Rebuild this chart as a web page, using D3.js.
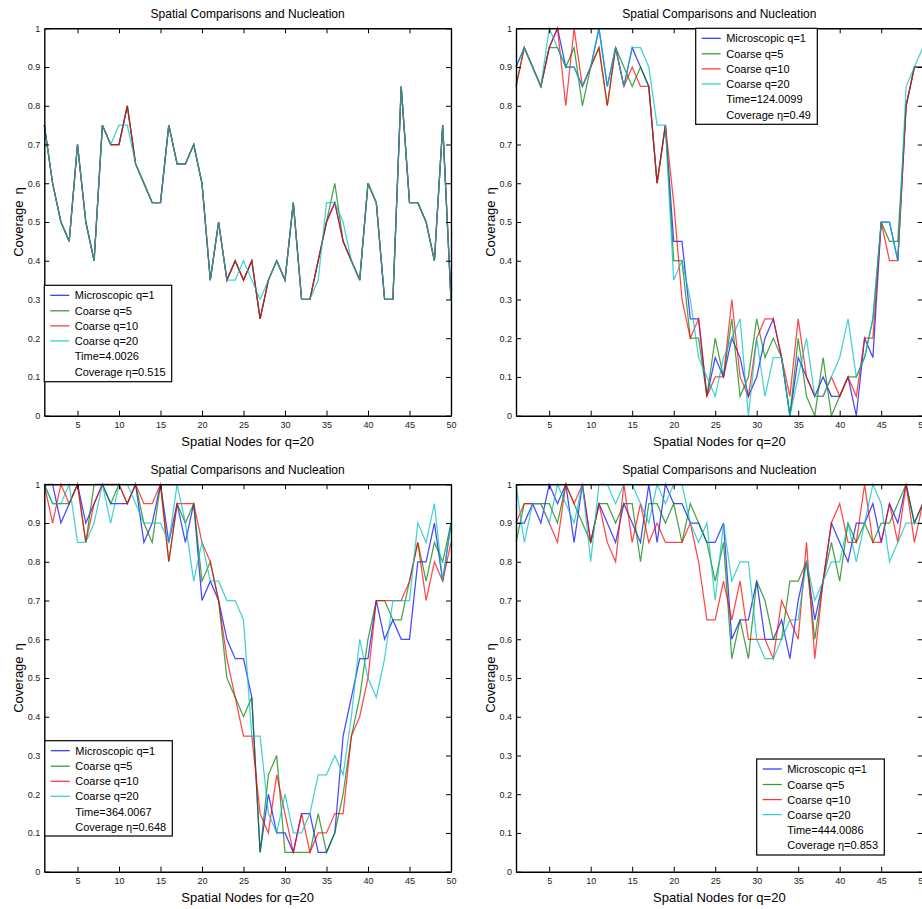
<!DOCTYPE html>
<html>
<head>
<meta charset="utf-8">
<script src="https://cdn.jsdelivr.net/npm/d3@7"></script>
<style>
  html, body { margin: 0; padding: 0; background: #fff; }
  svg { display: block; font-family: "Liberation Sans", Arial, Helvetica, sans-serif; }
</style>
</head>
<body>
<svg id="chart" width="922" height="909"></svg>
<script>
// ---------- data ----------
const nodes = d3.range(1, 51);
const xTicks = [5, 10, 15, 20, 25, 30, 35, 40, 45, 50];
const yTicks = [0, 0.1, 0.2, 0.3, 0.4, 0.5, 0.6, 0.7, 0.8, 0.9, 1];
const seriesNames = ["Microscopic q=1", "Coarse q=5", "Coarse q=10", "Coarse q=20"];
const seriesColors = ["#0000ff", "#008000", "#ff0000", "#00bfbf"];
const titleText = "Spatial Comparisons and Nucleation";
const xLabelText = "Spatial Nodes for q=20";
const times = ["4.0026", "124.0099", "364.0067", "444.0086"];
const coverages = ["0.515", "0.49", "0.648", "0.853"];

// Panel 1 (t = 4.0026)
const p1Micro  = [0.75,0.6,0.5,0.45,0.7,0.5,0.4,0.75,0.7,0.7,0.8,0.65,0.6,0.55,0.55,0.75,0.65,0.65,0.7,0.6,0.35,0.5,0.35,0.4,0.35,0.4,0.25,0.35,0.4,0.35,0.55,0.3,0.3,0.4,0.5,0.55,0.45,0.4,0.35,0.6,0.55,0.3,0.3,0.85,0.55,0.55,0.5,0.4,0.75,0.3];
const p1Q5     = [0.75,0.6,0.5,0.45,0.7,0.5,0.4,0.75,0.7,0.7,0.8,0.65,0.6,0.55,0.55,0.75,0.65,0.65,0.7,0.6,0.35,0.5,0.35,0.4,0.35,0.4,0.25,0.35,0.4,0.35,0.55,0.3,0.3,0.4,0.5,0.6,0.45,0.4,0.35,0.6,0.55,0.3,0.3,0.85,0.55,0.55,0.5,0.4,0.75,0.3];
const p1Q10    = [0.75,0.6,0.5,0.45,0.7,0.5,0.4,0.75,0.7,0.7,0.8,0.65,0.6,0.55,0.55,0.75,0.65,0.65,0.7,0.6,0.35,0.5,0.35,0.4,0.35,0.4,0.25,0.35,0.4,0.35,0.55,0.3,0.3,0.4,0.5,0.55,0.45,0.4,0.35,0.6,0.55,0.3,0.3,0.85,0.55,0.55,0.5,0.4,0.75,0.3];
const p1Q20    = [0.75,0.6,0.5,0.45,0.7,0.5,0.4,0.75,0.7,0.75,0.75,0.65,0.6,0.55,0.55,0.75,0.65,0.65,0.7,0.6,0.35,0.5,0.35,0.35,0.4,0.35,0.3,0.35,0.4,0.35,0.55,0.3,0.3,0.35,0.55,0.55,0.5,0.4,0.35,0.6,0.55,0.3,0.3,0.85,0.55,0.55,0.5,0.4,0.75,0.3];

// Panel 2 (t = 124.0099)
const p2Micro  = [0.9,0.95,0.9,0.85,0.95,1,0.9,0.9,0.85,0.9,1,0.85,0.95,0.85,0.95,0.9,0.85,0.6,0.75,0.45,0.45,0.25,0.25,0.05,0.15,0.1,0.2,0.15,0.05,0.1,0.2,0.25,0.15,0,0.15,0.1,0.05,0.1,0.05,0.05,0.1,0,0.2,0.15,0.5,0.5,0.4,0.8,0.9,0.9];
const p2Q5     = [0.85,0.95,0.9,0.85,0.95,0.95,0.9,0.95,0.8,0.9,0.95,0.8,0.95,0.9,0.85,0.9,0.85,0.6,0.75,0.4,0.4,0.2,0.2,0.05,0.2,0.1,0.25,0.05,0.1,0.25,0.15,0.2,0.15,0,0.2,0.05,0,0.15,0,0.05,0.1,0.1,0.15,0.25,0.5,0.45,0.45,0.8,0.9,0.9];
const p2Q10    = [0.85,0.95,0.9,0.85,0.95,1,0.8,1,0.85,0.9,0.95,0.8,0.95,0.85,0.9,0.85,0.85,0.6,0.75,0.55,0.3,0.2,0.25,0.05,0.1,0.1,0.3,0.1,0.05,0.2,0.25,0.25,0.15,0.05,0.25,0.1,0.05,0.05,0.1,0.05,0.1,0.05,0.2,0.2,0.5,0.4,0.4,0.8,0.9,0.9];
const p2Q20    = [0.9,0.95,0.9,0.85,1,0.95,0.9,0.9,0.85,0.9,1,0.85,0.95,0.85,0.95,0.95,0.9,0.75,0.75,0.35,0.4,0.3,0.15,0.1,0.05,0.15,0.2,0.25,0,0.2,0.05,0.15,0.15,0,0.1,0.2,0.05,0.05,0.1,0.15,0.25,0.1,0.15,0.25,0.5,0.5,0.4,0.85,0.9,0.95];

// Panel 3 (t = 364.0067)
const p3Micro  = [1,1,0.9,0.95,1,0.9,0.95,1,0.95,0.95,0.95,1,0.85,0.9,1,0.85,0.95,0.85,0.95,0.7,0.75,0.7,0.6,0.55,0.55,0.45,0.05,0.2,0.1,0.1,0.05,0.15,0.15,0.05,0.05,0.1,0.35,0.45,0.55,0.55,0.7,0.6,0.65,0.6,0.6,0.8,0.8,0.9,0.75,0.9];
const p3Q5     = [1,0.95,0.95,0.95,1,0.85,1,1,0.95,1,0.95,1,0.9,0.85,1,0.8,0.95,0.9,0.95,0.75,0.8,0.7,0.5,0.45,0.4,0.45,0.05,0.25,0.3,0.05,0.05,0.05,0.05,0.15,0.05,0.1,0.2,0.35,0.45,0.6,0.7,0.7,0.65,0.65,0.75,0.85,0.75,0.85,0.8,0.9];
const p3Q10    = [1,0.9,1,0.95,1,0.85,0.95,1,1,1,0.95,1,0.95,0.95,1,0.8,0.95,0.95,0.95,0.85,0.8,0.7,0.55,0.45,0.35,0.35,0.15,0.1,0.25,0.15,0.05,0.15,0.05,0.1,0.1,0.15,0.15,0.35,0.4,0.5,0.7,0.7,0.7,0.7,0.75,0.85,0.7,0.8,0.75,0.85];
const p3Q20    = [1,0.95,0.95,1,0.85,0.85,0.9,1,0.9,1,1,0.95,0.9,0.9,0.9,0.85,1,0.9,0.75,0.85,0.75,0.75,0.7,0.7,0.65,0.35,0.35,0.15,0.1,0.2,0.1,0.1,0.15,0.25,0.25,0.3,0.25,0.4,0.6,0.5,0.45,0.55,0.7,0.7,0.7,0.9,0.85,0.95,0.75,0.9];

// Panel 4 (t = 444.0086)
const p4Micro  = [0.9,0.9,0.95,0.9,1,0.95,1,0.85,1,0.85,0.95,0.9,0.85,0.95,0.9,0.85,1,0.85,1,0.95,0.95,0.9,0.9,0.85,0.85,0.9,0.6,0.65,0.65,0.75,0.6,0.6,0.65,0.55,0.7,0.8,0.65,0.75,0.9,0.85,0.8,0.9,0.9,0.95,0.85,0.95,0.9,1,0.9,0.95];
const p4Q5     = [0.85,0.95,0.95,0.95,0.95,0.9,1,0.95,0.9,0.85,0.95,0.95,0.9,0.95,0.95,0.8,0.95,0.95,0.9,0.95,0.85,0.95,0.9,0.85,0.75,0.85,0.55,0.65,0.55,0.75,0.7,0.6,0.6,0.75,0.75,0.8,0.6,0.75,0.85,0.75,0.9,0.85,0.9,0.85,0.9,0.9,0.95,1,0.9,0.95];
const p4Q10    = [0.9,0.95,0.95,0.95,0.9,0.85,1,0.95,1,0.85,0.95,0.85,0.8,1,0.85,0.95,0.85,0.9,0.85,0.85,0.85,0.9,0.8,0.65,0.65,0.75,0.65,0.75,0.6,0.6,0.6,0.55,0.7,0.65,0.6,0.85,0.55,0.75,0.9,0.95,0.85,0.85,1,0.85,0.85,0.95,0.85,1,0.85,0.95];
const p4Q20    = [1,0.85,0.95,0.95,0.9,1,0.95,0.9,1,0.8,1,1,0.95,1,1,0.95,0.9,1,0.95,1,1,0.9,0.85,0.9,0.7,0.9,0.75,0.8,0.8,0.6,0.55,0.55,0.6,0.65,0.65,0.8,0.7,0.75,0.8,0.8,0.9,0.8,0.9,1,0.95,0.8,0.85,0.9,0.9,0.9];

// ---------- drawing ----------
const svg = d3.select("#chart");

const panels = [
  { left: 44.3, right: 451,   top: 28.3,  bottom: 415.7, series: [p1Micro, p1Q5, p1Q10, p1Q20], time: times[0], cov: coverages[0], legend: { x: 44.3,  y: 285.3, w: 127.4, h: 96.4 } },
  { left: 516,  right: 922.7, top: 28.3,  bottom: 415.7, series: [p2Micro, p2Q5, p2Q10, p2Q20], time: times[1], cov: coverages[1], legend: { x: 695.7, y: 28.3,  w: 121.6, h: 96 } },
  { left: 44.3, right: 451,   top: 484.3, bottom: 871.7, series: [p3Micro, p3Q5, p3Q10, p3Q20], time: times[2], cov: coverages[2], legend: { x: 44.8,  y: 740.7, w: 127.5, h: 95.3 } },
  { left: 516,  right: 922.7, top: 484.3, bottom: 871.7, series: [p4Micro, p4Q5, p4Q10, p4Q20], time: times[3], cov: coverages[3], legend: { x: 756.7, y: 759,   w: 127.6, h: 96 } }
];

panels.forEach(p => {
  const g = svg.append("g");
  const x = d3.scaleLinear().domain([1, 50]).range([p.left, p.right]);
  const y = d3.scaleLinear().domain([0, 1]).range([p.bottom, p.top]);

  // data lines
  const line = d3.line().x((d, i) => x(nodes[i])).y(d => y(d));
  p.series.forEach((s, k) => {
    g.append("path")
      .datum(s)
      .attr("d", line)
      .attr("fill", "none")
      .attr("stroke", seriesColors[k])
      .attr("stroke-width", 1.25)
      .attr("stroke-opacity", 0.72)
      .attr("stroke-linejoin", "miter");
  });

  // axes (inward ticks, box)
  const styleAxis = sel => {
    sel.select(".domain").attr("stroke", "#000").attr("stroke-width", 1.4);
    sel.selectAll(".tick line").attr("stroke", "#000").attr("stroke-width", 1);
    sel.selectAll(".tick text").attr("fill", "#1a1a1a").attr("font-size", 9)
      .attr("font-family", "'Liberation Sans', Arial, Helvetica, sans-serif");
  };
  g.append("g").attr("transform", `translate(0,${p.bottom})`)
    .call(d3.axisBottom(x).tickValues(xTicks).tickSize(-5).tickSizeOuter(0).tickPadding(6).tickFormat(d3.format("d")))
    .call(styleAxis);
  g.append("g").attr("transform", `translate(0,${p.top})`)
    .call(d3.axisTop(x).tickValues(xTicks).tickSize(-5).tickSizeOuter(0).tickFormat(""))
    .call(styleAxis);
  g.append("g").attr("transform", `translate(${p.left},0)`)
    .call(d3.axisLeft(y).tickValues(yTicks).tickSize(-5).tickSizeOuter(0).tickPadding(4).tickFormat(d3.format("~g")))
    .call(styleAxis);
  g.append("g").attr("transform", `translate(${p.right},0)`)
    .call(d3.axisRight(y).tickValues(yTicks).tickSize(-5).tickSizeOuter(0).tickFormat(""))
    .call(styleAxis);

  // title
  g.append("text")
    .attr("x", (p.left + p.right) / 2).attr("y", p.top - 10)
    .attr("text-anchor", "middle").attr("font-size", 12).attr("fill", "#000")
    .text(titleText);
  // x label
  g.append("text")
    .attr("x", (p.left + p.right) / 2).attr("y", p.bottom + 30)
    .attr("text-anchor", "middle").attr("font-size", 13).attr("fill", "#000")
    .text(xLabelText);
  // y label
  const yl = g.append("text")
    .attr("transform", `translate(${p.left - 21.5},${(p.top + p.bottom) / 2}) rotate(-90)`)
    .attr("text-anchor", "middle").attr("font-size", 13).attr("fill", "#000");
  yl.append("tspan").text("Coverage");
  yl.append("tspan").attr("dx", 6).text("η");

  // legend
  const L = p.legend;
  const lg = g.append("g").attr("transform", `translate(${L.x},${L.y})`);
  lg.append("rect").attr("width", L.w).attr("height", L.h)
    .attr("fill", "#fff").attr("stroke", "#000").attr("stroke-width", 1.2);
  const rowY = [10, 25.5, 40.6, 55.6, 71, 86.4];
  seriesNames.forEach((name, k) => {
    lg.append("line").attr("x1", 6).attr("x2", 25).attr("y1", rowY[k]).attr("y2", rowY[k])
      .attr("stroke", seriesColors[k]).attr("stroke-width", 1.25).attr("stroke-opacity", 0.8);
    lg.append("text").attr("x", 30.5).attr("y", rowY[k] + 4).attr("font-size", 11).attr("fill", "#000").text(name);
  });
  lg.append("text").attr("x", 30.5).attr("y", rowY[4] + 4).attr("font-size", 11).attr("fill", "#000").text("Time=" + p.time);
  lg.append("text").attr("x", 30.5).attr("y", rowY[5] + 4).attr("font-size", 11).attr("fill", "#000").text("Coverage η=" + p.cov);
});
</script>
</body>
</html>
